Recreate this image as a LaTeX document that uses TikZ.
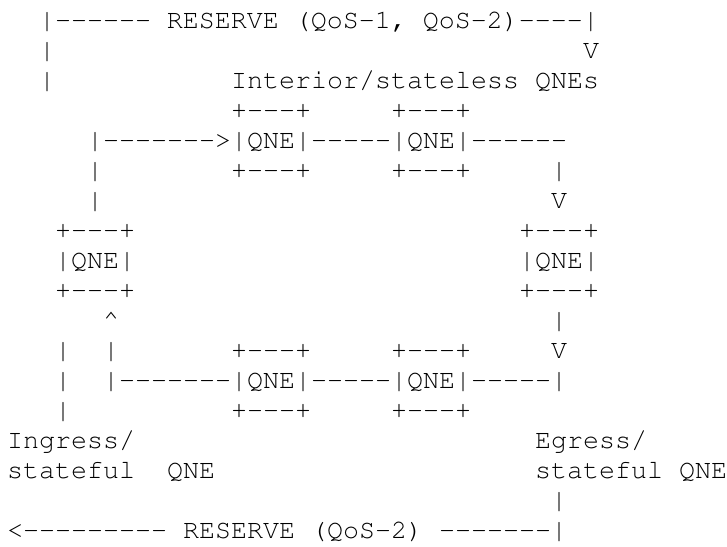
\documentclass[tikz,border=0pt]{standalone}
\usepackage[T1,TU]{fontenc}
\ExplSyntaxOn
% a run of separate hyphens, so that no -- ligature forms
\cs_new:Npn \dashes #1 { \prg_replicate:nn {#1} { -\kern0pt\relax } }
\ExplSyntaxOff
\newcommand\gap[1]{\hskip#1\fontcharwd\font`x\relax}
\begin{document}
\begin{tikzpicture}[x=1pt,y=1pt,
  row/.style={anchor=base west, inner sep=0pt, outer sep=0pt,
    font=\fontencoding{T1}\fontfamily{pcr}\fontsize{26.667}{30}\selectfont}]
\fill[white] (0,0) rectangle (727,-546);
\useasboundingbox (0,0) rectangle (727,-546);
% one node per text row, 16pt per character column, 30pt per row
\node[row] (r1)  at (7,-28)  {\gap{2}|\dashes{6}\gap{1}RESERVE\gap{1}(QoS\dashes{1}1,\gap{1}QoS\dashes{1}2)\dashes{4}|};
\node[row] (r2)  at (7,-58)  {\gap{2}|\gap{33}V};
\node[row] (r3)  at (7,-88)  {\gap{2}|\gap{11}Interior/stateless\gap{1}QNEs};
\node[row] (r4)  at (7,-118) {\gap{14}+\dashes{3}+\gap{5}+\dashes{3}+};
\node[row] (r5)  at (7,-148) {\gap{5}|\dashes{7}>|QNE|\dashes{5}|QNE|\dashes{6}};
\node[row] (r6)  at (7,-178) {\gap{5}|\gap{8}+\dashes{3}+\gap{5}+\dashes{3}+\gap{5}|};
\node[row] (r7)  at (7,-208) {\gap{5}|\gap{28}V};
\node[row] (r8)  at (7,-238) {\gap{3}+\dashes{3}+\gap{24}+\dashes{3}+};
\node[row] (r9)  at (7,-268) {\gap{3}|QNE|\gap{24}|QNE|};
\node[row] (r10) at (7,-298) {\gap{3}+\dashes{3}+\gap{24}+\dashes{3}+};
\node[row] (r11) at (7,-328) {\gap{6}\textasciicircum\gap{27}|};
\node[row] (r12) at (7,-358) {\gap{3}|\gap{2}|\gap{7}+\dashes{3}+\gap{5}+\dashes{3}+\gap{5}V};
\node[row] (r13) at (7,-388) {\gap{3}|\gap{2}|\dashes{7}|QNE|\dashes{5}|QNE|\dashes{5}|};
\node[row] (r14) at (7,-418) {\gap{3}|\gap{10}+\dashes{3}+\gap{5}+\dashes{3}+};
\node[row] (r15) at (7,-448) {Ingress/\gap{25}Egress/};
\node[row] (r16) at (7,-478) {stateful\gap{2}QNE\gap{20}stateful\gap{1}QNE};
\node[row] (r17) at (7,-508) {\gap{34}|};
\node[row] (r18) at (7,-538) {<\dashes{9}\gap{1}RESERVE\gap{1}(QoS\dashes{1}2)\gap{1}\dashes{7}|};
\end{tikzpicture}
\end{document}
